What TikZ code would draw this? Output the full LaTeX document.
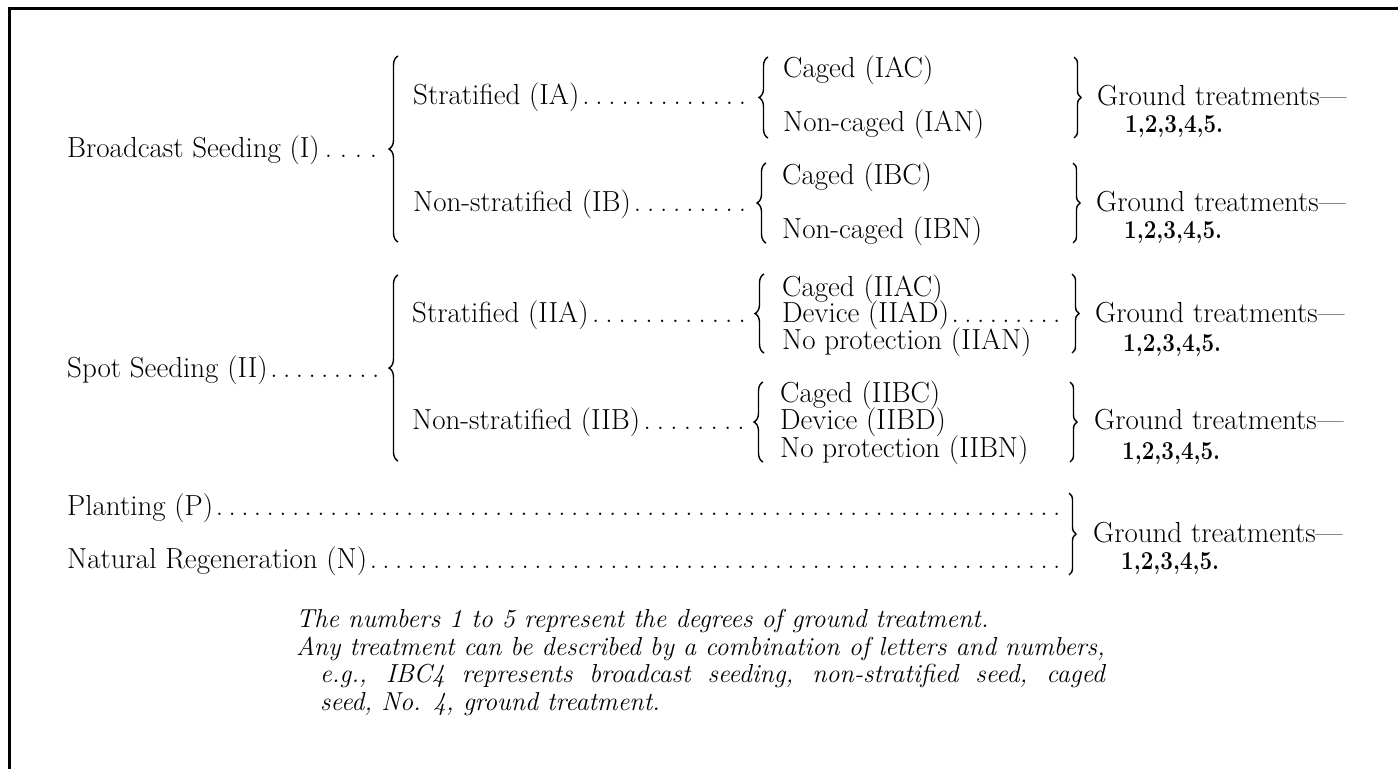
\documentclass[tikz,border=0pt]{standalone}
\usepackage{graphicx}
\usetikzlibrary{decorations.pathreplacing}
\newcommand\mydots{\xleaders\hbox to 12.6pt{\hss.\hss}\hfill}
\newcommand\lead[2]{\hbox to #1pt{#2\mydots}}
\newcommand\digs{\resizebox{98pt}{17pt}{\bfseries 1,2,3,4,5.}}
% a stack of lines with a fixed distance between baselines
\newcommand\lines[2]{\vtop{\baselineskip=#1pt\lineskiplimit=-100pt\lineskip=0pt #2}}
\newcommand\gtr[1]{\lines{#1}{\hbox{Ground treatments---}\hbox{\hspace{28pt}\digs}}}
\newcommand\notefont{\fontsize{26}{30}\selectfont\itshape}
\newcommand\linetwo{Any treatment can be described by a combination of letters and numbers,}
\newlength\ltwo
\settowidth\ltwo{\notefont\linetwo}
\begin{document}
\begin{tikzpicture}[x=1pt,y=-1pt,
  txt/.style={anchor=base west, inner sep=0pt, font=\fontsize{29}{34}\selectfont},
  ital/.style={anchor=base west, inner sep=0pt, font=\notefont},
  lbrace/.style={decorate, decoration={brace, amplitude=9pt}, line width=1.4pt},
  rbrace/.style={decorate, decoration={brace, amplitude=7pt}, line width=1.4pt},
  frameline/.style={line width=3pt}]
\useasboundingbox (0,0) rectangle (1398,769);
% frame
\coordinate (ftr) at (1398,8);
\coordinate (ftl) at (9,8);
\coordinate (fbl) at (9,769);
\draw[frameline] (ftr) -- (ftl) -- (fbl);

% first level
\node[txt] (bs) at (67,157) {\lead{315}{Broadcast Seeding (I)}};
\node[txt] (ss) at (67,377) {\lead{315}{Spot Seeding (II)}};
\node[txt] (pl) at (67,515) {\lead{996}{Planting (P)}};
\node[txt] (nr) at (67,568) {\lead{996}{Natural Regeneration (N)}};

% first-level braces
\coordinate (b1t) at (398,56);  \coordinate (b1b) at (398,242);
\coordinate (b2t) at (398,275); \coordinate (b2b) at (398,461);
\draw[lbrace] (b1b) -- (b1t);
\draw[lbrace] (b2b) -- (b2t);

% second level
\node[txt] (ia)  at (413,104) {\lead{336}{Stratified (IA)}};
\node[txt] (ib)  at (413,211) {\lead{336}{Non-stratified (IB)}};
\node[txt] (iia) at (412,322) {\lead{337}{Stratified (IIA)}};
\node[txt] (iib) at (412,429) {\lead{336}{Non-stratified (IIB)}};

% second-level braces
\coordinate (c1t) at (768,57);  \coordinate (c1b) at (768,138);
\coordinate (c2t) at (766,163); \coordinate (c2b) at (766,243);
\coordinate (c3t) at (764,274); \coordinate (c3b) at (764,353);
\coordinate (c4t) at (763,382); \coordinate (c4b) at (763,462);
\draw[lbrace] (c1b) -- (c1t);
\draw[lbrace] (c2b) -- (c2t);
\draw[lbrace] (c3b) -- (c3t);
\draw[lbrace] (c4b) -- (c4t);

% third level
\node[txt] (iac)  at (783,77)  {Caged (IAC)};
\node[txt] (ian)  at (783,131) {Non-caged (IAN)};
\node[txt] (ibc)  at (782,184) {Caged (IBC)};
\node[txt] (ibn)  at (782,238) {Non-caged (IBN)};
\node[txt] (iiax) at (782,296) {\lines{26.5}{\hbox{Caged (IIAC)}\hbox{\lead{281}{Device (IIAD)}}\hbox{No protection (IIAN)}}};
\node[txt] (iibx) at (780,402) {\lines{27.5}{\hbox{Caged (IIBC)}\hbox{Device (IIBD)}\hbox{No protection (IIBN)}}};

% right braces
\coordinate (r1t) at (1074,57);  \coordinate (r1b) at (1074,138);
\coordinate (r2t) at (1073,163); \coordinate (r2b) at (1073,243);
\coordinate (r3t) at (1072,274); \coordinate (r3b) at (1072,353);
\coordinate (r4t) at (1070,382); \coordinate (r4b) at (1070,462);
\coordinate (r5t) at (1069,493); \coordinate (r5b) at (1069,575);
\draw[rbrace] (r1t) -- (r1b);
\draw[rbrace] (r2t) -- (r2b);
\draw[rbrace] (r3t) -- (r3b);
\draw[rbrace] (r4t) -- (r4b);
\draw[rbrace] (r5t) -- (r5b);

% ground treatments
\node[txt] (g1) at (1097,105) {\gtr{27}};
\node[txt] (g2) at (1096,211) {\gtr{27}};
\node[txt] (g3) at (1095,322) {\gtr{29}};
\node[txt] (g4) at (1094,429) {\gtr{30}};
\node[txt] (g5) at (1093,542) {\gtr{27}};

% notes
\node[ital] (n1) at (296,627) {The numbers 1 to 5 represent the degrees of ground treatment.};
\node[ital] (n2) at (296,655) {\linetwo};
\node[ital] (n3) at (320,682) {\hbox to \dimexpr\ltwo-24pt\relax{e.g., IBC4 represents broadcast seeding, non-stratified seed, caged}};
\node[ital] (n4) at (320,710) {seed, No. 4, ground treatment.};
\end{tikzpicture}
\end{document}
